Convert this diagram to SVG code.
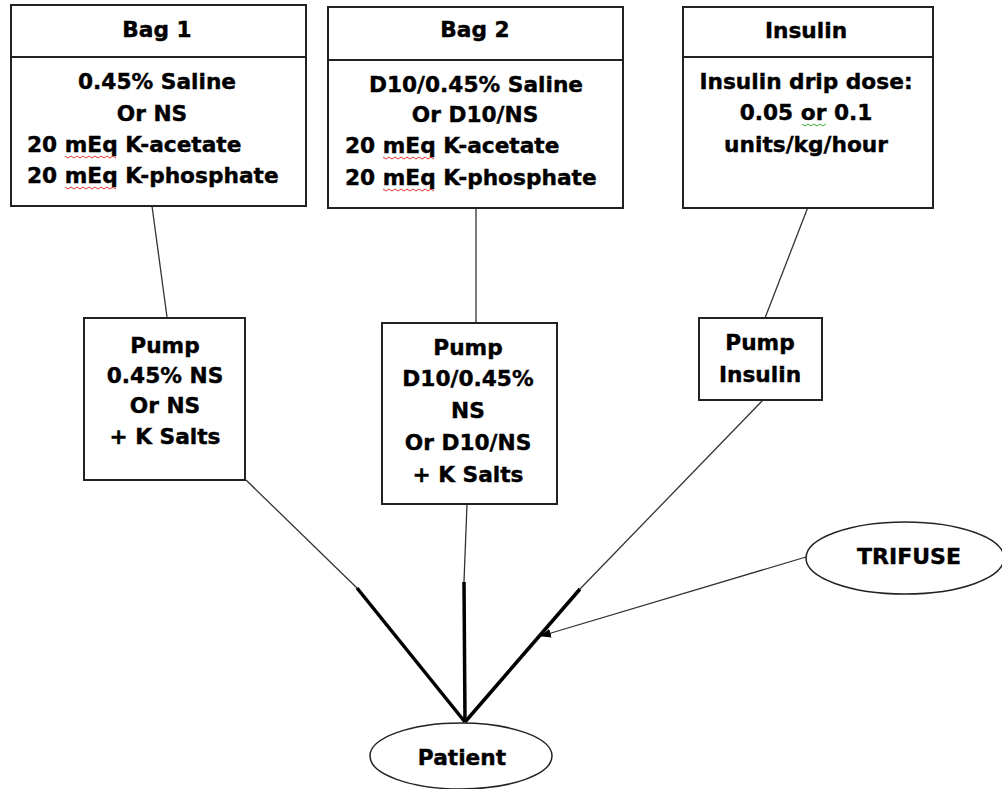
<svg xmlns="http://www.w3.org/2000/svg" width="1002" height="789" viewBox="0 0 1002 789">
<defs>
<style>
.box{fill:#fff;stroke:#222;stroke-width:2}
.t{font-family:"DejaVu Sans",Verdana,sans-serif;font-weight:bold;font-size:21.7px;fill:#000;stroke:#000;stroke-width:0.4}
.c{text-anchor:middle}
.thin{fill:none;stroke:#333;stroke-width:1.3}
.thick{fill:none;stroke:#000;stroke-width:3.5}
.sq{fill:none;stroke:#e33;stroke-width:1}
.sqg{fill:none;stroke:#3a3;stroke-width:1}
</style>
<marker id="ah" viewBox="0 0 10 10" refX="9" refY="5" markerWidth="11" markerHeight="11" markerUnits="userSpaceOnUse" orient="auto">
<path d="M0,1 L10,5 L0,9 z" fill="#000"/>
</marker>
</defs>
<rect width="1002" height="789" fill="#fff"/>
<g id="connectors">
<line class="thin" x1="152" y1="206" x2="167" y2="317"/>
<line class="thin" x1="476" y1="208" x2="476" y2="322"/>
<line class="thin" x1="808" y1="207" x2="765" y2="318"/>
<line class="thin" x1="246" y1="480" x2="357" y2="588"/>
<line class="thin" x1="467" y1="504" x2="464" y2="582"/>
<line class="thin" x1="763" y1="400" x2="580" y2="589"/>
<line class="thick" x1="357" y1="588" x2="465" y2="722"/>
<line class="thick" x1="464" y1="582" x2="465" y2="722"/>
<line class="thick" x1="580" y1="589" x2="465" y2="722"/>
<line class="thin" x1="806" y1="557" x2="541" y2="636" marker-end="url(#ah)"/>
</g>
<g id="bag1">
<rect class="box" x="11" y="5" width="295" height="201"/>
<line class="box" x1="11" y1="57" x2="306" y2="57"/>
<text class="t c" x="157" y="37">Bag 1</text>
<text class="t c" x="157" y="89">0.45% Saline</text>
<text class="t c" x="152" y="121">Or NS</text>
<text class="t" x="27" y="152">20 mEq K-acetate</text>
<text class="t" x="27" y="183">20 mEq K-phosphate</text>
<polyline class="sq" points="65,156 68,158 71,156 74,158 77,156 80,158 83,156 86,158 89,156 92,158 95,156 98,158 101,156 104,158 107,156 110,158 113,156 116,158"/>
<polyline class="sq" points="65,187 68,189 71,187 74,189 77,187 80,189 83,187 86,189 89,187 92,189 95,187 98,189 101,187 104,189 107,187 110,189 113,187 116,189"/>
</g>
<g id="bag2">
<rect class="box" x="328" y="7" width="295" height="201"/>
<line class="box" x1="328" y1="60" x2="623" y2="60"/>
<text class="t c" x="475" y="37">Bag 2</text>
<text class="t c" x="476" y="92">D10/0.45% Saline</text>
<text class="t c" x="475" y="122">Or D10/NS</text>
<text class="t" x="345" y="153">20 mEq K-acetate</text>
<text class="t" x="345" y="185">20 mEq K-phosphate</text>
<polyline class="sq" points="383,157 386,159 389,157 392,159 395,157 398,159 401,157 404,159 407,157 410,159 413,157 416,159 419,157 422,159 425,157 428,159 431,157 434,159"/>
<polyline class="sq" points="383,189 386,191 389,189 392,191 395,189 398,191 401,189 404,191 407,189 410,191 413,189 416,191 419,189 422,191 425,189 428,191 431,189 434,191"/>
</g>
<g id="insulin">
<rect class="box" x="683" y="7" width="250" height="201"/>
<line class="box" x1="683" y1="57" x2="933" y2="57"/>
<text class="t c" x="806" y="38">Insulin</text>
<text class="t c" x="806" y="89">Insulin drip dose:</text>
<text class="t c" x="806" y="120">0.05 or 0.1</text>
<text class="t c" x="806" y="152">units/kg/hour</text>
<polyline class="sqg" points="802,124 805,126 808,124 811,126 814,124 817,126 820,124 823,126 826,124"/>
</g>
<g id="pump1">
<rect class="box" x="84" y="318" width="161" height="162"/>
<text class="t c" x="165" y="353">Pump</text>
<text class="t c" x="165" y="383">0.45% NS</text>
<text class="t c" x="165" y="413">Or NS</text>
<text class="t c" x="165" y="444">+ K Salts</text>
</g>
<g id="pump2">
<rect class="box" x="382" y="323" width="175" height="181"/>
<text class="t c" x="468" y="355">Pump</text>
<text class="t c" x="468" y="386">D10/0.45%</text>
<text class="t c" x="468" y="418">NS</text>
<text class="t c" x="468" y="450">Or D10/NS</text>
<text class="t c" x="468" y="482">+ K Salts</text>
</g>
<g id="pumpInsulin">
<rect class="box" x="699" y="318" width="123" height="82"/>
<text class="t c" x="760" y="350">Pump</text>
<text class="t c" x="760" y="382">Insulin</text>
</g>
<g id="trifuse">
<ellipse cx="905" cy="558" rx="99" ry="36" fill="#fff" stroke="#222" stroke-width="1.5"/>
<text class="t c" x="909" y="564" style="font-size:22px">TRIFUSE</text>
</g>
<g id="patient">
<ellipse cx="461" cy="756" rx="91" ry="33" fill="#fff" stroke="#222" stroke-width="1.5"/>
<text class="t c" x="462" y="765">Patient</text>
</g>
</svg>
